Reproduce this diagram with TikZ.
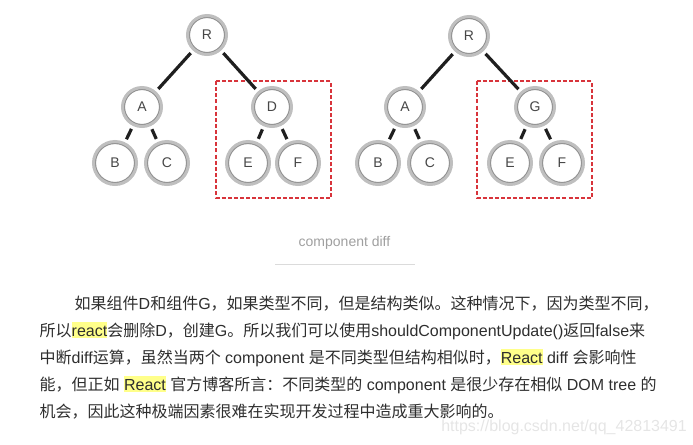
\documentclass[tikz,border=0pt]{standalone}
\usepackage{fontspec}
\setmainfont{Noto Sans CJK SC}
\newfontfamily\latf{Liberation Sans}
\definecolor{rougecadre}{HTML}{D8343B}
\definecolor{surligneur}{HTML}{FFFF8A}
\definecolor{texte}{HTML}{2E2E2E}
\newcommand\lat[1]{{\latf#1}}
\newcommand\surligne[1]{{\setlength\fboxsep{0pt}\colorbox{surligneur}{\rule[-1.1pt]{0pt}{12pt}\latf#1}}}

\begin{document}
\begin{tikzpicture}[x=0.75pt,y=-0.75pt]
\tikzstyle{anneau} = [circle,draw=gray!50,line width=2.2pt,fill=white,inner sep=0pt,text=black!72,font=\latf\fontsize{10.5}{12}\selectfont] %cercles gris
\tikzstyle{noeud} = [anneau,minimum size=29.3pt,path picture={\draw[gray!85,line width=1pt] (path picture bounding box.center) circle (13.2pt);}]
\tikzstyle{feuille} = [anneau,minimum size=32.3pt,path picture={\draw[gray!85,line width=1pt] (path picture bounding box.center) circle (14.7pt);}]
\tikzstyle{branche} = [black!88,line width=2.4pt,shorten <=2.5pt,shorten >=2.5pt]
\tikzstyle{cadre} = [rougecadre,line width=1.1pt,dash pattern=on 3pt off 1.6pt]
\tikzstyle{ligne} = [anchor=base west,text=texte,font=\fontsize{12}{14}\selectfont]

\useasboundingbox (0,0) rectangle (693,444);

%cadres rouges
\draw[cadre] (216,81) rectangle (331,198);
\draw[cadre] (477,81) rectangle (592,198);

%premier arbre
\node[noeud] (R1) at (207,35) {R};
\node[noeud] (A1) at (142,107) {A};
\node[noeud] (D) at (272,107) {D};
\node[feuille] (B1) at (115,163) {B};
\node[feuille] (C1) at (167,163) {C};
\node[feuille] (E1) at (248,163) {E};
\node[feuille] (F1) at (298,163) {F};

%second arbre
\node[noeud] (R2) at (469,36) {R};
\node[noeud] (A2) at (405,107) {A};
\node[noeud] (G) at (535,107) {G};
\node[feuille] (B2) at (378,163) {B};
\node[feuille] (C2) at (430,163) {C};
\node[feuille] (E2) at (510,163) {E};
\node[feuille] (F2) at (562,163) {F};

%aretes
\draw[branche] (R1)--(A1);
\draw[branche] (R1)--(D);
\draw[branche] (A1)--(B1);
\draw[branche] (A1)--(C1);
\draw[branche] (D)--(E1);
\draw[branche] (D)--(F1);
\draw[branche] (R2)--(A2);
\draw[branche] (R2)--(G);
\draw[branche] (A2)--(B2);
\draw[branche] (A2)--(C2);
\draw[branche] (G)--(E2);
\draw[branche] (G)--(F2);

%legende
\node[anchor=base,text=gray!75,font=\latf\fontsize{10.5}{12}\selectfont] (legende) at (344.5,246.5) {component diff};
\coordinate (trait1) at (275,264);
\coordinate (trait2) at (415,264);
\draw[gray!28,line width=0.75pt] (trait1)--(trait2);

%paragraphe
\node[ligne] (l1) at (70,309) {如果组件\lat{D}和组件\lat{G}，如果类型不同，但是结构类似。这种情况下，因为类型不同，};
\node[ligne] (l2) at (35,336.5) {所以\surligne{react}会删除\lat{D}，创建\lat{G}。所以我们可以使用\lat{shouldComponentUpdate()}返回\lat{false}来};
\node[ligne] (l3) at (35,363.5) {中断\lat{diff}运算，虽然当两个\lat{ component }是不同类型但结构相似时，\surligne{React}\lat{ diff }会影响性};
\node[ligne] (l4) at (35,390.5) {能，但正如\lat{ }\surligne{React}\lat{ }官方博客所言：不同类型的\lat{ component }是很少存在相似\lat{ DOM tree }的};
\node[ligne] (l5) at (35,417.5) {机会，因此这种极端因素很难在实现开发过程中造成重大影响的。};

%filigrane
\node[anchor=base west,inner sep=0pt,text=gray!20,font=\latf\fontsize{12}{14}\selectfont] (filigrane) at (441,431) {https://blog.csdn.net/qq\_42813491};
\end{tikzpicture}
\end{document}
